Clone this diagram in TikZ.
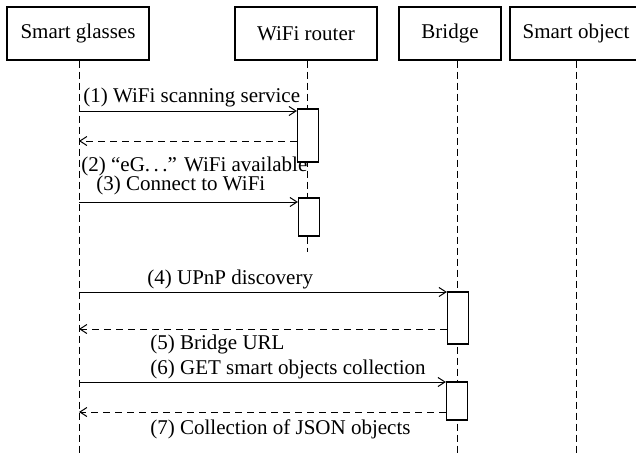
\documentclass[tikz,border=0pt]{standalone}
\usepackage{fontspec}
\setmainfont{Liberation Serif}
\usetikzlibrary{arrows.meta,positioning}

\begin{document}
\begin{tikzpicture}[x=0.5pt,y=-0.5pt,
    font=\fontsize{10.5}{12}\selectfont,
    actor/.style={draw, line width=0.6pt, minimum height=26.5pt, inner sep=0pt},
    act/.style={draw, fill=white, line width=0.6pt, minimum width=10.5pt, inner sep=0pt},
    lifeline/.style={line width=0.5pt, dash pattern=on 3.5pt off 2pt},
    call/.style={line width=0.5pt, -{Straight Barb[length=3.5pt,width=4.5pt]}},
    reply/.style={call, dash pattern=on 3.5pt off 2.5pt},
    msglabel/.style={anchor=base west, inner sep=0pt}]
  \useasboundingbox (0,0) rectangle (636,455);

  % The participants
  \node[actor, minimum width=71pt] (glasses) at (78,33.5) {Smart glasses};
  \node[actor, minimum width=71pt] (router) at (306,33.5) {WiFi router};
  \node[actor, minimum width=51pt] (bridge) at (450,33.5) {Bridge};
  \node[actor, minimum width=66pt] (object) at (576,33.5) {Smart object};

  % Lifelines
  \coordinate (glassesend) at (79,455);
  \coordinate (routerend) at (307,252);
  \coordinate (bridgeend) at (457,455);
  \coordinate (objectend) at (576,455);
  \draw[lifeline] (glassesend |- glasses.south) -- (glassesend);
  \draw[lifeline] (routerend |- router.south) -- (routerend);
  \draw[lifeline] (bridgeend |- bridge.south) -- (bridgeend);
  \draw[lifeline] (objectend |- object.south) -- (objectend);

  % Activation boxes
  \node[act, minimum height=26.5pt] (act1) at (308,135.5) {};
  \node[act, minimum height=19pt] (act2) at (309,217) {};
  \node[act, minimum height=26pt] (act3) at (458,318) {};
  \node[act, minimum height=19pt] (act4) at (457,401) {};

  % Messages
  \coordinate (m1) at (79,111);
  \coordinate (m2) at (79,141);
  \coordinate (m3) at (79,202);
  \coordinate (m4) at (79,292);
  \coordinate (m5) at (79,329);
  \coordinate (m6) at (79,382);
  \coordinate (m7) at (79,412);
  \draw[call] (m1) -- (m1 -| act1.west);
  \draw[reply] (m2 -| act1.west) -- (m2);
  \draw[call] (m3) -- (m3 -| act2.west);
  \draw[call] (m4) -- (m4 -| act3.west);
  \draw[reply] (m5 -| act3.west) -- (m5);
  \draw[call] (m6) -- (m6 -| act4.west);
  \draw[reply] (m7 -| act4.west) -- (m7);

  % Message labels
  \node[msglabel] (l1) at (83,102) {(1) WiFi scanning service};
  \node[msglabel] (l2) at (81,171) {(2) “eG.\,.\,.” WiFi available};
  \node[msglabel] (l3) at (96,190) {(3) Connect to WiFi};
  \node[msglabel] (l4) at (147,284) {(4) UPnP discovery};
  \node[msglabel] (l5) at (150,349) {(5) Bridge URL};
  \node[msglabel] (l6) at (150,374) {(6) GET smart objects collection};
  \node[msglabel] (l7) at (150,434) {(7) Collection of JSON objects};
\end{tikzpicture}
\end{document}
